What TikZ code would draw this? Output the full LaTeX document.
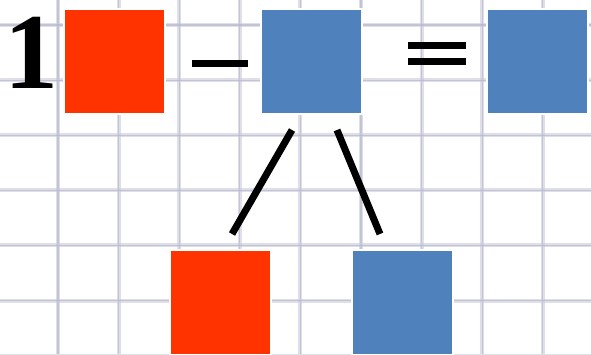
\documentclass[tikz,border=0pt]{standalone}
\usepackage{fontspec}
\newfontfamily\timesfont{Liberation Serif}
\definecolor{redsq}{HTML}{FF3300}
\definecolor{bluesq}{HTML}{4F81BD}
\definecolor{gridc}{HTML}{C9CADB}
\definecolor{gridd}{HTML}{B0B1C8}
\begin{document}
\begin{tikzpicture}[x=1pt,y=-1pt,
  sq/.style={draw=white,line width=2pt,minimum width=101pt,minimum height=105pt,inner sep=0pt,outer sep=0pt,anchor=north west},
  redbox/.style={sq,fill=redsq},
  bluebox/.style={sq,fill=bluesq},
  bar/.style={fill=black},
  link/.style={line width=7pt,black}]
\useasboundingbox (0,0) rectangle (591,354);
\fill[white] (0,0) rectangle (591,354);
% grid
\foreach \i in {-1,...,9} {
  \pgfmathsetmacro{\gx}{58+60.6*\i}
  \draw[gridc,line width=4pt,opacity=0.6] (\gx,0) -- (\gx,354);
  \draw[gridd,line width=1.2pt,opacity=0.6] (\gx,0) -- (\gx,354);
}
\foreach \j in {-1,...,6} {
  \pgfmathsetmacro{\gy}{25+55.1*\j}
  \draw[gridc,line width=4pt,opacity=0.6] (0,\gy) -- (591,\gy);
  \draw[gridd,line width=1.2pt,opacity=0.6] (0,\gy) -- (591,\gy);
}
% digit
\node[anchor=base,inner sep=0pt,font=\timesfont\bfseries\fontsize{108}{108}\selectfont] (one) at (32,88) {1};
% boxes
\node[redbox] (r1) at (64,8.5) {};
\node[bluebox] (b1) at (261,8.5) {};
\node[bluebox] (b2) at (487,8.5) {};
\node[redbox] (r2) at (170,250) {};
\node[bluebox] (b3) at (352,250) {};
% operators
\fill[bar] (192,60) rectangle (248,67);
\fill[bar] (408,42) rectangle (466,48.5);
\fill[bar] (408,58) rectangle (466,64.5);
% connectors
\coordinate (l1) at (292,130);
\coordinate (l2) at (232,234);
\coordinate (m1) at (337,130);
\coordinate (m2) at (380,234);
\draw[link] (l1) -- (l2);
\draw[link] (m1) -- (m2);
\end{tikzpicture}
\end{document}
